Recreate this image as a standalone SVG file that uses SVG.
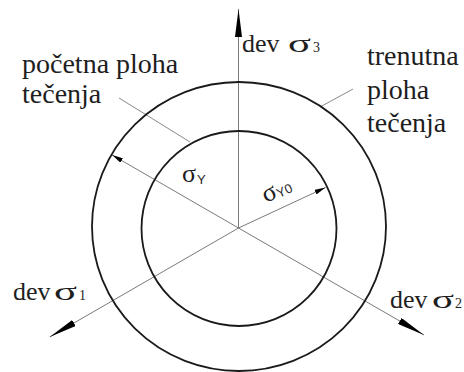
<svg xmlns="http://www.w3.org/2000/svg" width="464" height="372" viewBox="0 0 464 372">
<style>
.t{font-family:'Liberation Serif','DejaVu Serif',serif;font-size:28px;fill:#1e1e1e}
.d{font-family:'Liberation Serif','DejaVu Serif',serif;font-size:26px;fill:#1e1e1e}
.s{font-family:'Liberation Serif','DejaVu Serif',serif;font-size:14px;fill:#1e1e1e}
.ss{font-family:'Liberation Sans','DejaVu Sans',sans-serif;font-size:13px;fill:#1e1e1e}
.ax{stroke:#7a7a7a;stroke-width:1;fill:none}
.ld{stroke:#8a8a8a;stroke-width:1;fill:none}
.cr{stroke:#1a1a1a;stroke-width:1.8;fill:none}
</style>
<defs>
<marker id="big" markerUnits="userSpaceOnUse" viewBox="0 0 28 7" markerWidth="28" markerHeight="7" refX="28" refY="3.5" orient="auto">
<path d="M0,0 L28,3.5 L0,7 z" fill="#000"/>
</marker>
<marker id="small" markerUnits="userSpaceOnUse" viewBox="0 0 11 5" markerWidth="11" markerHeight="5" refX="11" refY="2.5" orient="auto">
<path d="M0,0 L11,2.5 L0,5 z" fill="#000"/>
</marker>
</defs>
<g id="connectors">
<line class="ax" x1="238.5" y1="228" x2="238.5" y2="9" marker-end="url(#big)"/>
<line class="ax" x1="238.5" y1="228" x2="49.7" y2="337" marker-end="url(#big)"/>
<line class="ax" x1="238.5" y1="228" x2="424" y2="335" marker-end="url(#big)"/>
<line class="ax" x1="238.5" y1="228" x2="112.1" y2="155" marker-end="url(#small)"/>
<line class="ax" x1="238.5" y1="228" x2="325.5" y2="187.5" marker-end="url(#small)"/>
<line class="ld" x1="119" y1="98" x2="190" y2="142"/>
<line class="ld" x1="353" y1="89" x2="320" y2="107"/>
</g>
<g id="outer-surface">
<ellipse class="cr" cx="239" cy="226.5" rx="147" ry="144.5"/>
</g>
<g id="initial-surface">
<circle class="cr" cx="239" cy="228.5" r="97.5"/>
</g>
<g id="label-pocetna">
<text class="t" x="22" y="73">početna ploha</text>
<text class="t" x="22" y="103">tečenja</text>
</g>
<g id="label-trenutna">
<text class="t" x="367" y="65">trenutna</text>
<text class="t" x="367" y="99">ploha</text>
<text class="t" x="367" y="132">tečenja</text>
</g>
<g id="axis3">
<text class="d" x="242" y="52">dev</text>
<text class="d" x="288" y="52" textLength="23" lengthAdjust="spacingAndGlyphs">σ</text>
<text class="s" x="313" y="52">3</text>
</g>
<g id="axis1">
<text class="d" x="13" y="300">dev</text>
<text class="d" x="54" y="300" textLength="23" lengthAdjust="spacingAndGlyphs">σ</text>
<text class="s" x="79" y="300">1</text>
</g>
<g id="axis2">
<text class="d" x="390" y="308">dev</text>
<text class="d" x="432" y="308" textLength="22" lengthAdjust="spacingAndGlyphs">σ</text>
<text class="s" x="455" y="308">2</text>
</g>
<g id="sigmaY">
<text class="d" x="182" y="182">σ</text>
<text class="ss" x="197" y="184">Y</text>
</g>
<g id="sigmaY0" transform="translate(266,203) rotate(-25)">
<text class="d" x="0" y="0">σ</text>
<text class="ss" x="14" y="1">Y0</text>
</g>
</svg>
